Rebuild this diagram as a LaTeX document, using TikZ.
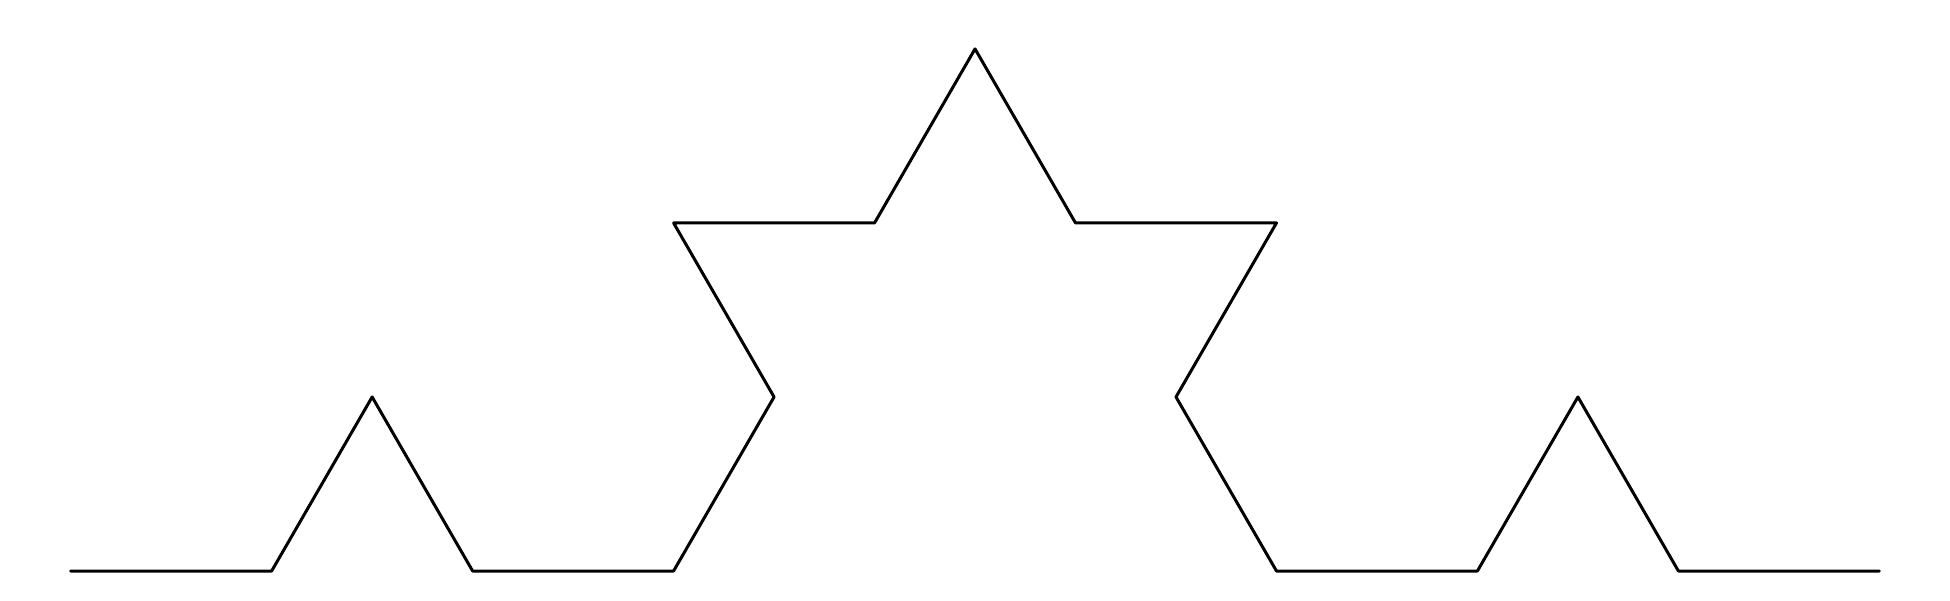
\documentclass[tikz,border=0pt]{standalone}
\usetikzlibrary{calc}

\begin{document}
\begin{tikzpicture}[
  x=1pt, y=1pt,
  curve/.style={draw=black, line width=3pt, line join=round, line cap=round},
]

% --- canvas ---
\useasboundingbox (0,0) rectangle (1950,600);

% --- Koch curve, order 2: vertices in units of the smallest segment ---
\def\seg{200.96}
\def\rise{174.03}
\foreach \u/\v [count=\i from 0] in {0/0, 1/0, 1.5/1, 2/0, 3/0, 3.5/1, 3/2, 4/2, 4.5/3,
                                      5/2, 6/2, 5.5/1, 6/0, 7/0, 7.5/1, 8/0, 9/0}
  \coordinate (k\i) at ({70.7+\u*\seg}, {29+\v*\rise});

\draw[curve] (k0) -- (k1) -- (k2) -- (k3) -- (k4) -- (k5) -- (k6) -- (k7) -- (k8)
  -- (k9) -- (k10) -- (k11) -- (k12) -- (k13) -- (k14) -- (k15) -- (k16);

\end{tikzpicture}
\end{document}
